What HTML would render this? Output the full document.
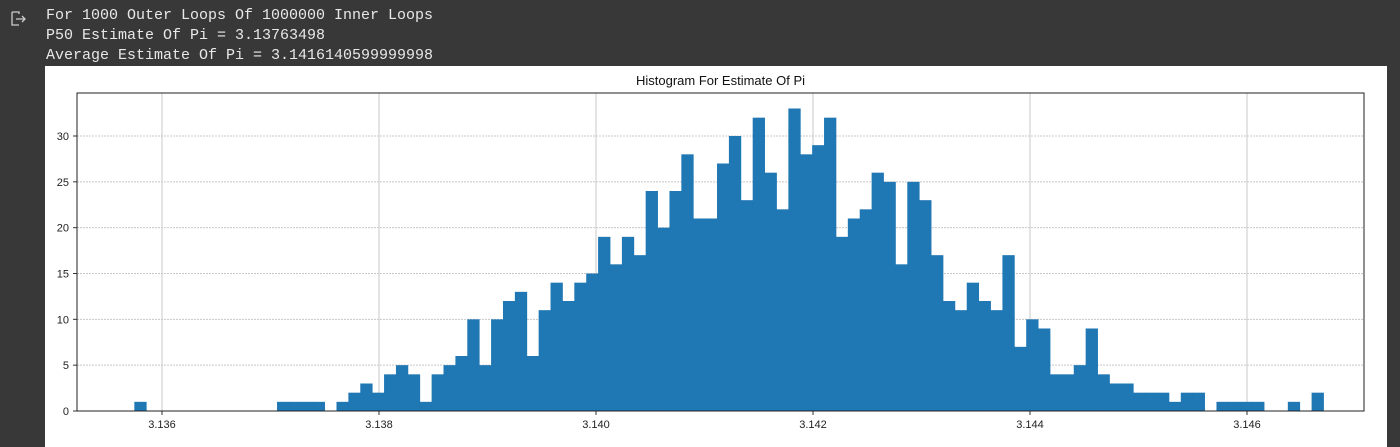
<!DOCTYPE html>
<html><head><meta charset="utf-8"><style>
body{margin:0;background:#383838;width:1400px;height:447px;overflow:hidden;position:relative;font-family:"Liberation Mono","DejaVu Sans Mono",monospace}
.out{position:absolute;left:46px;color:#e8e8e8;font-size:15px;white-space:pre}
</style></head><body>
<div style="position:absolute;left:11px;top:11px;width:13px;height:14px;">
<svg width="16" height="16"><path d="M1 1h7v2M1 1v13h7M5 8h9M11 5l3 3-3 3" stroke="#ccc" fill="none" stroke-width="1.3"/></svg></div>
<div class="out" style="top:7px">For 1000 Outer Loops Of 1000000 Inner Loops</div>
<div class="out" style="top:27px">P50 Estimate Of Pi = 3.13763498</div>
<div class="out" style="top:47px">Average Estimate Of Pi = 3.1416140599999998</div>
<svg id="chart" style="position:absolute;left:45px;top:66px" width="1342" height="381"></svg>
<script>
const counts=[1,0,0,0,0,0,0,0,0,0,0,0,1,1,1,1,0,1,2,3,2,4,5,4,1,4,5,6,10,5,10,12,13,6,11,14,12,14,15,19,16,19,17,24,20,24,28,21,21,27,30,23,32,26,22,33,28,29,32,19,21,22,26,25,16,25,23,17,12,11,14,12,11,17,7,10,9,4,4,5,9,4,3,3,2,2,2,1,2,2,0,1,1,1,1,0,0,1,0,2];
const xMin=3.135745, xMax=3.146705;
const xTicks=[3.136,3.138,3.140,3.142,3.144,3.146];
const xTickLabels=["3.136","3.138","3.140","3.142","3.144","3.146"];
const yTicks=[0,5,10,15,20,25,30];
const ox=45, oy=66;
const L=77-ox, R=1364-ox, T=93-oy, B=411-oy;
const xs=v=>(162-ox)+(v-3.136)/0.002*217;
const ys=v=>B-v*(275/30);
const svg=document.getElementById('chart');
const NS='http://www.w3.org/2000/svg';
function mk(t,a){const e=document.createElementNS(NS,t);for(const k in a)e.setAttribute(k,a[k]);svg.appendChild(e);return e;}
const bg=mk('rect',{x:0,y:0,width:1342,height:381,fill:'#fff'});


xTicks.forEach((t,i)=>{const x=xs(t);
 const g=mk('line',{x1:x,x2:x,y1:T,y2:B,stroke:'#c8c8c8','stroke-width':1});
 
 
 mk('line',{x1:x,x2:x,y1:B,y2:B+4,stroke:'#333'});
 const tx=mk('text',{x:x,y:B+17,'text-anchor':'middle','font-size':11,fill:'#222','font-family':'Liberation Sans, sans-serif'});
 tx.textContent=xTickLabels[i];
 
 
});
yTicks.forEach(t=>{const y=ys(t);
 const g=mk('line',{x1:L,x2:R,y1:y,y2:y,stroke:'#c8c8c8','stroke-width':1,'stroke-dasharray':'2,1'});
 
 
 mk('line',{x1:L-4,x2:L,y1:y,y2:y,stroke:'#333'});
 const tx=mk('text',{x:L-8,y:y+4,'text-anchor':'end','font-size':11,fill:'#222','font-family':'Liberation Sans, sans-serif'});
 tx.textContent=String(t);
 
 
});
const bw=(xMax-xMin)/counts.length;
counts.forEach((c,i)=>{if(!c)return;
 const x0=xs(xMin+i*bw), x1=xs(xMin+(i+1)*bw);
 const r=mk('rect',{x:x0,y:ys(c),width:x1-x0+0.4,height:B-ys(c),fill:'#1f77b4'});
 
 
});
const fr=mk('rect',{x:L,y:T,width:R-L,height:B-T,fill:'none',stroke:'#222','stroke-width':1});


const ti=mk('text',{x:(L+R)/2,y:19,'text-anchor':'middle','font-size':13,fill:'#111','font-family':'Liberation Sans, sans-serif'});
ti.textContent='Histogram For Estimate Of Pi';


</script>
</body></html>
